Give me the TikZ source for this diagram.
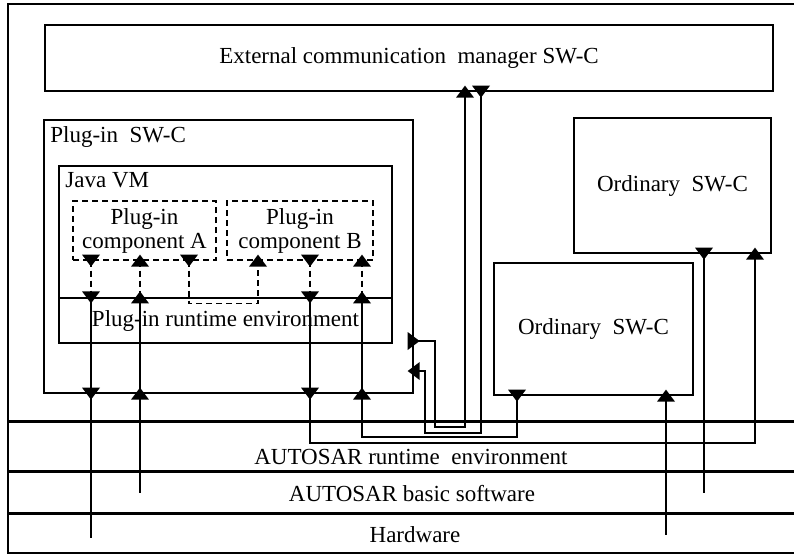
\documentclass[tikz,border=0pt]{standalone}
\usepackage{fontspec}
\setmainfont{Liberation Serif}
\usetikzlibrary{fit}
\tikzset{
  box/.style={draw, line width=0.65pt, inner sep=0pt},
  dbox/.style={box, dash pattern=on 3pt off 2pt},
  tag/.style={inner sep=0pt, anchor=west},
  wire/.style={line width=0.65pt},
  dwire/.style={wire, dash pattern=on 3pt off 2pt},
  band/.style={line width=1.5pt},
  port/.pic={\fill (-4.5pt,3pt) -- (4.5pt,3pt) -- (0,-3pt) -- cycle;},
}
\begin{document}
\begin{tikzpicture}[x=0.5pt, y=-0.5pt, font=\fontsize{11.5}{12}\selectfont]
    \useasboundingbox (0,0) rectangle (794,554);
    \draw[line width=1.2pt] (794,4) -- (8,4) -- (8,553) -- (794,553);
    % software components
    \node[box, fit={(45,25) (773,91)},
      label=center:{External communication~~manager SW-C}] (ecm) {};
    \node[box, fit={(44,120) (413,393)}] (psw) {};
    \node[tag] (pswt) at (50,137) {Plug-in~~SW-C};
    \node[box, fit={(59,166) (392,343)}] (jvm) {};
    \node[tag] (jvmt) at (65,180) {Java VM};
    \node[box, fit={(59,298) (392,343)},
      label=center:{Plug-in runtime environment}] (pre) {};
    \node[dbox, fit={(73,201) (216,260)},
      label={[align=center]center:Plug-in\\component A}] (pca) {};
    \node[dbox, fit={(227,201) (373,260)},
      label={[align=center]center:Plug-in\\component B}] (pcb) {};
    \node[box, fit={(574,118) (771,253)}, label=center:{Ordinary~~SW-C}] (ord1) {};
    \node[box, fit={(494,263) (693,395)}, label=center:{Ordinary~~SW-C}] (ord2) {};
    % layers
    \draw[band] (8,421) -- (794,421);
    \draw[band] (8,471) -- (794,471);
    \draw[band] (8,513) -- (794,513);
    \node (rte) at (411,457) {AUTOSAR runtime~~environment};
    \node (bsw) at (412,494) {AUTOSAR basic software};
    \node (hw) at (415,535) {Hardware};
    \coordinate (e1) at (91,538);
    \coordinate (e2) at (140,493);
    \coordinate (e3) at (666,535);
    \coordinate (e4) at (704,493);
    % plug-in connectors
    \draw[dwire] (pca.south -| e1) -- (pre.north -| e1);
    \draw[wire] (pre.north -| e1) -- (e1);
    \draw[dwire] (pca.south -| e2) -- (pre.north -| e2);
    \draw[wire] (pre.north -| e2) -- (e2);
    \draw[dwire] (pca.south -| 189,0) -- ++(0,43) -| (pcb.south -| 258,0);
    \draw[dwire] (pcb.south -| 310,0) -- (pre.north -| 310,0);
    \draw[wire] (pre.north -| 310,0) |- (755,443) -- (ord1.south -| 755,0);
    \draw[dwire] (pcb.south -| 362,0) -- (pre.north -| 362,0);
    \draw[wire] (pre.north -| 362,0) |- (517,437) -- (ord2.south -| 517,0);
    \draw[wire] (psw.east |- 0,341) -| (435,427) -| (ecm.south -| 465,0);
    \draw[wire] (psw.east |- 0,371) -| (425,433) -| (ecm.south -| 481,0);
    \draw[wire] (ord2.south -| e3) -- (e3);
    \draw[wire] (ord1.south -| e4) -- (e4);
    % ports
    \foreach \px/\r in {91/0,140/180,189/0,310/0,362/180}
      \pic[rotate=\r] at (pca.south -| \px,0) {port};
    \pic[rotate=180] at (pcb.south -| 258,0) {port};
    \foreach \px/\r in {91/0,140/180,310/0,362/180}{
      \pic[rotate=\r] at (pre.north -| \px,0) {port};
      \pic[rotate=\r] at (psw.south -| \px,0) {port};
    }
    \pic[rotate=180] at (ord1.south -| 755,0) {port};
    \pic at (ord2.south -| 517,0) {port};
    \pic[rotate=90] at (psw.east |- 0,341) {port};
    \pic[rotate=-90] at (psw.east |- 0,371) {port};
    \pic[rotate=180] at (ecm.south -| 465,0) {port};
    \pic at (ecm.south -| 481,0) {port};
    \pic[rotate=180] at (ord2.south -| e3) {port};
    \pic at (ord1.south -| e4) {port};
\end{tikzpicture}
\end{document}
